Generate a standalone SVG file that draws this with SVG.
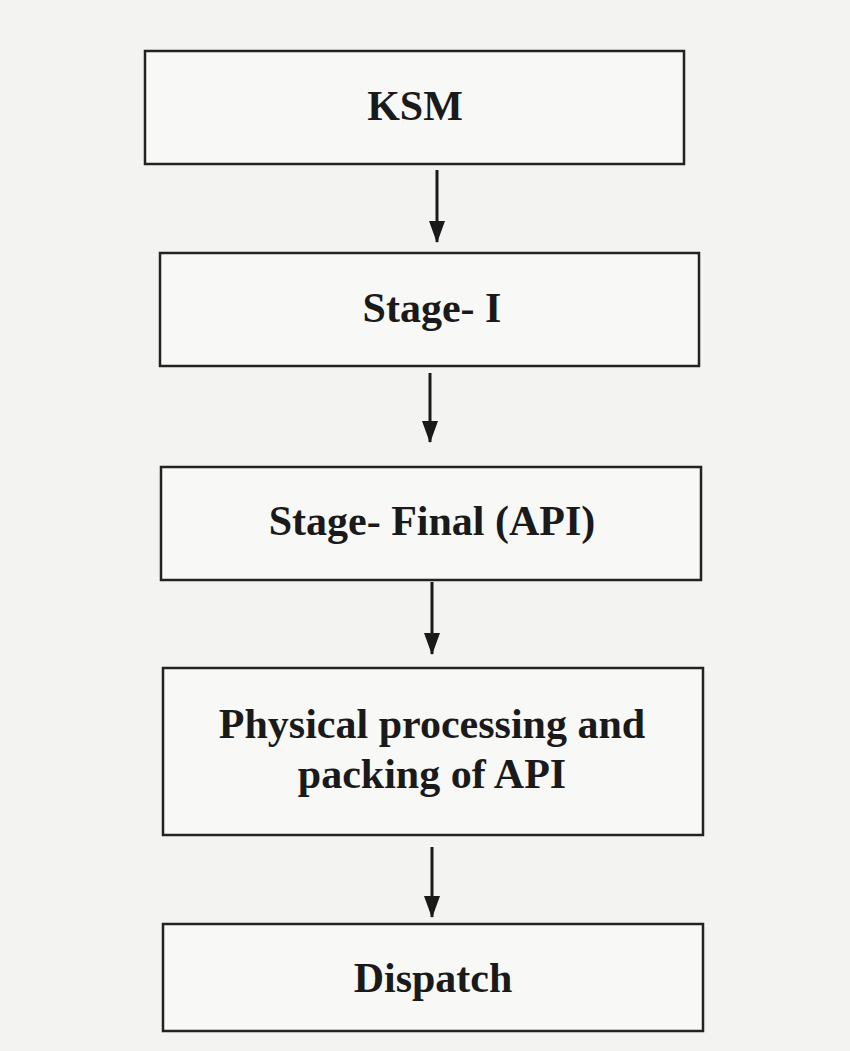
<svg xmlns="http://www.w3.org/2000/svg" width="850" height="1051" viewBox="0 0 850 1051">
  <style>
    .box { fill: #f8f8f7; stroke: #222; stroke-width: 2.5; }
    .lbl { font-family: "Liberation Serif", "Times New Roman", serif; font-weight: bold; font-size: 42px; fill: #1a1a1a; text-anchor: middle; }
    .conn { stroke: #1a1a1a; stroke-width: 3; fill: none; marker-end: url(#arrow); }
  </style>
  <defs>
    <marker id="arrow" markerUnits="userSpaceOnUse" markerWidth="22" markerHeight="16" refX="21" refY="8" orient="auto" viewBox="0 0 22 16">
      <path d="M0,0 L22,8 L0,16 Z" fill="#1a1a1a"/>
    </marker>
  </defs>
  <rect x="0" y="0" width="850" height="1051" fill="#f3f3f2"/>

  <g id="node-ksm">
    <rect class="box" x="145" y="51" width="539" height="113"/>
    <text class="lbl" x="415" y="120">KSM</text>
  </g>
  <g id="node-stage1">
    <rect class="box" x="160" y="253" width="539" height="113"/>
    <text class="lbl" x="432" y="322">Stage- I</text>
  </g>
  <g id="node-stagefinal">
    <rect class="box" x="161" y="467" width="540" height="113"/>
    <text class="lbl" x="432" y="535">Stage- Final (API)</text>
  </g>
  <g id="node-physical">
    <rect class="box" x="163" y="668" width="540" height="167"/>
    <text class="lbl" x="432" y="738">Physical processing and</text>
    <text class="lbl" x="432" y="788">packing of API</text>
  </g>
  <g id="node-dispatch">
    <rect class="box" x="163" y="924" width="540" height="107"/>
    <text class="lbl" x="433" y="992">Dispatch</text>
  </g>

  <g id="connectors">
    <path class="conn" d="M437,170 L437,242"/>
    <path class="conn" d="M430,373 L430,442"/>
    <path class="conn" d="M432,582 L432,654"/>
    <path class="conn" d="M432,847 L432,917"/>
  </g>
</svg>
